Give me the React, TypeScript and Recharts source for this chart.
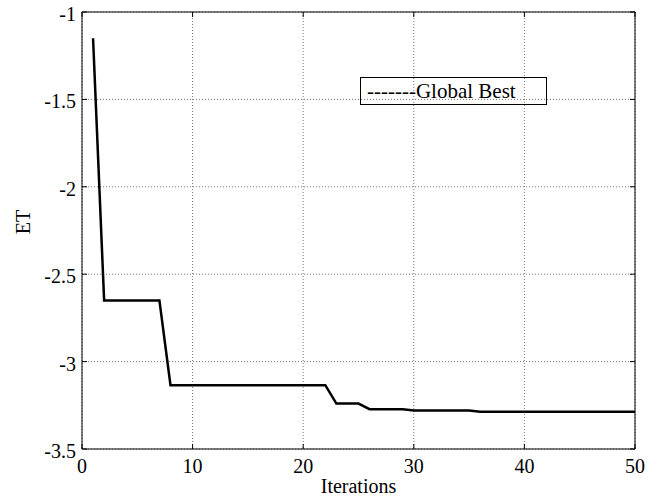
import { LineChart, Line, XAxis, YAxis, CartesianGrid, ReferenceLine, Legend } from 'recharts';

// iteration number and global best ET
const iterations = [
  1, 2, 3, 4, 5, 6, 7, 8, 9, 10,
  11, 12, 13, 14, 15, 16, 17, 18, 19, 20,
  21, 22, 23, 24, 25, 26, 27, 28, 29, 30,
  31, 32, 33, 34, 35, 36, 37, 38, 39, 40,
  41, 42, 43, 44, 45, 46, 47, 48, 49, 50,
];
const globalBest = [
  -1.15, -2.65, -2.65, -2.65, -2.65, -2.65, -2.65, -3.135, -3.135, -3.135,
  -3.135, -3.135, -3.135, -3.135, -3.135, -3.135, -3.135, -3.135, -3.135, -3.135,
  -3.135, -3.135, -3.24, -3.24, -3.24, -3.272, -3.272, -3.272, -3.272, -3.28,
  -3.28, -3.28, -3.28, -3.28, -3.28, -3.287, -3.287, -3.287, -3.287, -3.287,
  -3.287, -3.287, -3.287, -3.287, -3.287, -3.287, -3.287, -3.287, -3.287, -3.287,
];
const xTicks = [0, 10, 20, 30, 40, 50];
const yTicks = [-3.5, -3, -2.5, -2, -1.5, -1];

const data = iterations.map((it, i) => ({ it, et: globalBest[i] }));

const W = 660;
const H = 499;
const margin = { top: 12, right: 25, left: 0, bottom: 0 };
const Y_W = 82;
const X_H = 50;
const TOP = margin.top;
const BOTTOM = H - margin.bottom - X_H;
const LEFT = margin.left + Y_W;
const RIGHT = W - margin.right;
const serif = "'Liberation Serif', 'Times New Roman', 'DejaVu Serif', serif";
const txt = { fontFamily: serif, fontSize: 20, fill: '#000' };

// MATLAB style: ticks point inward, on both sides of the box
function XTick(props: any) {
  const { x, payload } = props;
  return (
    <g>
      <line x1={x} x2={x} y1={BOTTOM} y2={BOTTOM - 5} stroke="#000" />
      <line x1={x} x2={x} y1={TOP} y2={TOP + 5} stroke="#000" />
      <text x={x} y={BOTTOM + 24} textAnchor="middle" style={txt}>
        {payload.value}
      </text>
    </g>
  );
}

function YTick(props: any) {
  const { y, payload } = props;
  return (
    <g>
      <line x1={LEFT} x2={LEFT + 5} y1={y} y2={y} stroke="#000" />
      <line x1={RIGHT} x2={RIGHT - 5} y1={y} y2={y} stroke="#000" />
      <text x={76} y={y + 9} textAnchor="end" style={txt}>
        {payload.value}
      </text>
    </g>
  );
}

export default function App() {
  return (
    <div style={{ width: W, height: H, fontFamily: serif }}>
      <style>{'body{margin:0}'}</style>
      <LineChart width={W} height={H} data={data} margin={margin} style={{ fontFamily: serif }}>
        <CartesianGrid stroke="#777" strokeDasharray="1 2" />
        <XAxis
          dataKey="it"
          type="number"
          domain={[0, 50]}
          ticks={xTicks}
          height={X_H}
          axisLine={{ stroke: '#000' }}
          tickLine={false}
          tick={<XTick />}
          interval={0}
          label={() => (
            <text x={(LEFT + RIGHT) / 2} y={493} textAnchor="middle" style={txt}>
              Iterations
            </text>
          )}
        />
        <YAxis
          type="number"
          domain={[-3.5, -1]}
          ticks={yTicks}
          width={Y_W}
          axisLine={{ stroke: '#000' }}
          tickLine={false}
          tick={<YTick />}
          interval={0}
          label={() => (
            <text x={30} y={222} transform="rotate(-90, 30, 222)" textAnchor="middle" style={txt}>
              ET
            </text>
          )}
        />
        <ReferenceLine y={-1} stroke="#000" />
        <ReferenceLine x={50} stroke="#000" />
        <Line
          type="linear"
          dataKey="et"
          name="Global Best"
          stroke="#000"
          strokeWidth={2.5}
          dot={false}
          isAnimationActive={false}
        />
        <Legend
          layout="horizontal"
          verticalAlign="middle"
          wrapperStyle={{ position: 'absolute', top: 77, left: 360, width: 187, height: 28 }}
          content={() => (
            <div
              style={{
                boxSizing: 'border-box',
                width: 187,
                height: 28,
                border: '1px solid #000',
                fontFamily: serif,
                fontSize: 21,
                lineHeight: '26px',
                paddingLeft: 6,
                whiteSpace: 'nowrap',
                color: '#000',
              }}
            >
              -------Global Best
            </div>
          )}
        />
      </LineChart>
    </div>
  );
}
